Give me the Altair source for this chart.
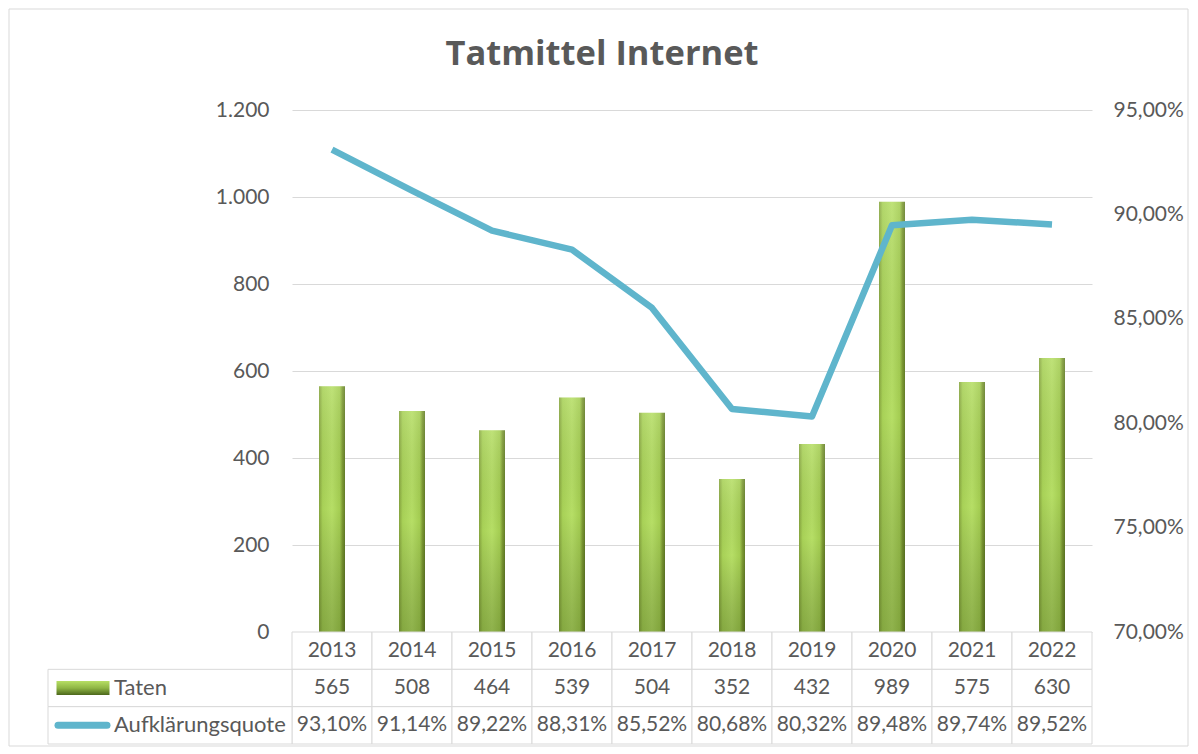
import altair as alt
import pandas as pd

# ---- data ----
years = ["2013", "2014", "2015", "2016", "2017", "2018", "2019", "2020", "2021", "2022"]
taten = [565, 508, 464, 539, 504, 352, 432, 989, 575, 630]
quote = [93.10, 91.14, 89.22, 88.31, 85.52, 80.68, 80.32, 89.48, 89.74, 89.52]
row_keys = ["Jahr", "Taten", "Aufklärungsquote"]
row_labels = ["Taten", "Aufklärungsquote"]
left_ticks = [0, 200, 400, 600, 800, 1000, 1200]
right_ticks = [70, 75, 80, 85, 90, 95]
title_text = "Tatmittel Internet"

FONT = "Lato"
GRAY = "#595959"
GRID = "#d9d9d9"
BLUE = "#5fb5cc"

df = pd.DataFrame({"Jahr": years, "Taten": taten, "Quote": quote})

def pct(v):
    return f"{v:.2f}".replace(".", ",") + "%"

tbl_rows = []
for y, t, q in zip(years, taten, quote):
    tbl_rows.append({"Jahr": y, "row": "Jahr", "txt": y})
    tbl_rows.append({"Jahr": y, "row": "Taten", "txt": str(t)})
    tbl_rows.append({"Jahr": y, "row": "Aufklärungsquote", "txt": pct(q)})
tbl = pd.DataFrame(tbl_rows)
lab_df = pd.DataFrame({"row": row_labels, "label": row_labels})
one = pd.DataFrame({"k": [0]})

bar_grad = alt.LinearGradient(
    gradient="linear", x1=0, x2=1, y1=0, y2=0,
    stops=[
        alt.GradientStop(color="#85a33e", offset=0),
        alt.GradientStop(color="#a8d157", offset=0.14),
        alt.GradientStop(color="#b6de66", offset=0.5),
        alt.GradientStop(color="#a4cd52", offset=0.8),
        alt.GradientStop(color="#7e9b33", offset=0.9),
        alt.GradientStop(color="#627d27", offset=1),
    ],
)
shade_grad = alt.LinearGradient(
    gradient="linear", x1=0, x2=0, y1=0, y2=1,
    stops=[
        alt.GradientStop(color="rgba(255,255,255,0.12)", offset=0),
        alt.GradientStop(color="rgba(0,0,0,0)", offset=0.5),
        alt.GradientStop(color="rgba(30,50,0,0.26)", offset=1),
    ],
)
swatch_grad = alt.LinearGradient(
    gradient="linear", x1=0, x2=0, y1=0, y2=1,
    stops=[
        alt.GradientStop(color="#b6de64", offset=0),
        alt.GradientStop(color="#8fb645", offset=0.5),
        alt.GradientStop(color="#4d681c", offset=1),
    ],
)

x_top = alt.X("Jahr:N", sort=years, scale=alt.Scale(paddingInner=0, paddingOuter=0), axis=None)

left_axis = alt.Axis(
    values=left_ticks,
    labelExpr="replace(format(datum.value, ','), ',', '.')",
    grid=True, gridColor=GRID, ticks=False, domain=False,
    labelPadding=23, labelFont=FONT, labelFontSize=21, labelColor=GRAY,
    title=None,
)
y_left = alt.Y("Taten:Q", scale=alt.Scale(domain=[0, 1200]), axis=left_axis)

bars = alt.Chart(df).mark_bar(width=26, fill=bar_grad).encode(x=x_top, y=y_left)
shade = alt.Chart(df).mark_bar(width=26, fill=shade_grad).encode(x=x_top, y=y_left)
line = alt.Chart(df).mark_line(color=BLUE, strokeWidth=6.5, strokeJoin="round").encode(
    x=x_top,
    y=alt.Y(
        "Quote:Q",
        scale=alt.Scale(domain=[70, 95], zero=False),
        axis=alt.Axis(
            orient="right", values=right_ticks,
            labelExpr="replace(format(datum.value, '.2f'), '.', ',') + '%'",
            grid=False, ticks=False, domain=False,
            labelPadding=21, labelFont=FONT, labelFontSize=21, labelColor=GRAY,
            title=None,
        ),
    ),
)

top = alt.layer(alt.layer(bars, shade), line).resolve_scale(y="independent").properties(
    width=800, height=522,
    title=alt.TitleParams(
        title_text, font="Open Sans", fontSize=34.5, fontWeight="bold", color=GRAY,
        anchor="middle", frame="group", dx=-90, offset=27,
    ),
)

x_bot = alt.X("Jahr:N", sort=years, scale=alt.Scale(paddingInner=0, paddingOuter=0), axis=None)
y_bot = alt.Y("row:N", sort=row_keys, scale=alt.Scale(domain=row_keys, paddingInner=0, paddingOuter=0), axis=None)

cells = alt.Chart(tbl).mark_rect(fill="white", stroke=GRID, strokeWidth=1).encode(x=x_bot, y=y_bot)
texts = alt.Chart(tbl).mark_text(font=FONT, fontSize=21, color=GRAY, baseline="middle").encode(
    x=x_bot, y=y_bot, text="txt:N"
)
label_cells = alt.Chart(lab_df).mark_rect(fill="white", stroke=GRID, strokeWidth=1).encode(
    x=alt.value(-244), x2=alt.value(0), y=y_bot
)
label_text = alt.Chart(lab_df).mark_text(
    font=FONT, fontSize=22, color=GRAY, align="left", baseline="middle"
).encode(x=alt.value(-178), y=y_bot, text="label:N")
swatch_bar = alt.Chart(lab_df).transform_filter(alt.datum.row == "Taten").mark_point(
    shape="M-1,-0.26L1,-0.26L1,0.26L-1,0.26Z", size=2809, filled=True,
    fill=swatch_grad, opacity=1, strokeWidth=0,
).encode(x=alt.value(-209), y=y_bot)
swatch_line = alt.Chart(lab_df).transform_filter(alt.datum.row == "Aufklärungsquote").mark_rule(
    strokeWidth=7, strokeCap="round", color=BLUE
).encode(x=alt.value(-234), x2=alt.value(-185), y=y_bot)
border = alt.Chart(one).mark_rect(fill="white", fillOpacity=0, stroke=GRID, strokeWidth=1).encode(
    x=alt.value(-283), x2=alt.value(896), y=alt.value(-623), y2=alt.value(114)
)

bottom = alt.layer(cells, texts, label_cells, label_text, swatch_bar, swatch_line, border).properties(
    width=800, height=112
)

chart = (
    alt.vconcat(top, bottom, spacing=0, bounds="flush")
    .resolve_scale(x="independent", y="independent")
    .properties(padding=0)
    .configure_view(stroke=None)
)

chart.save("out.html", embed_options={"renderer": "svg", "actions": False})
